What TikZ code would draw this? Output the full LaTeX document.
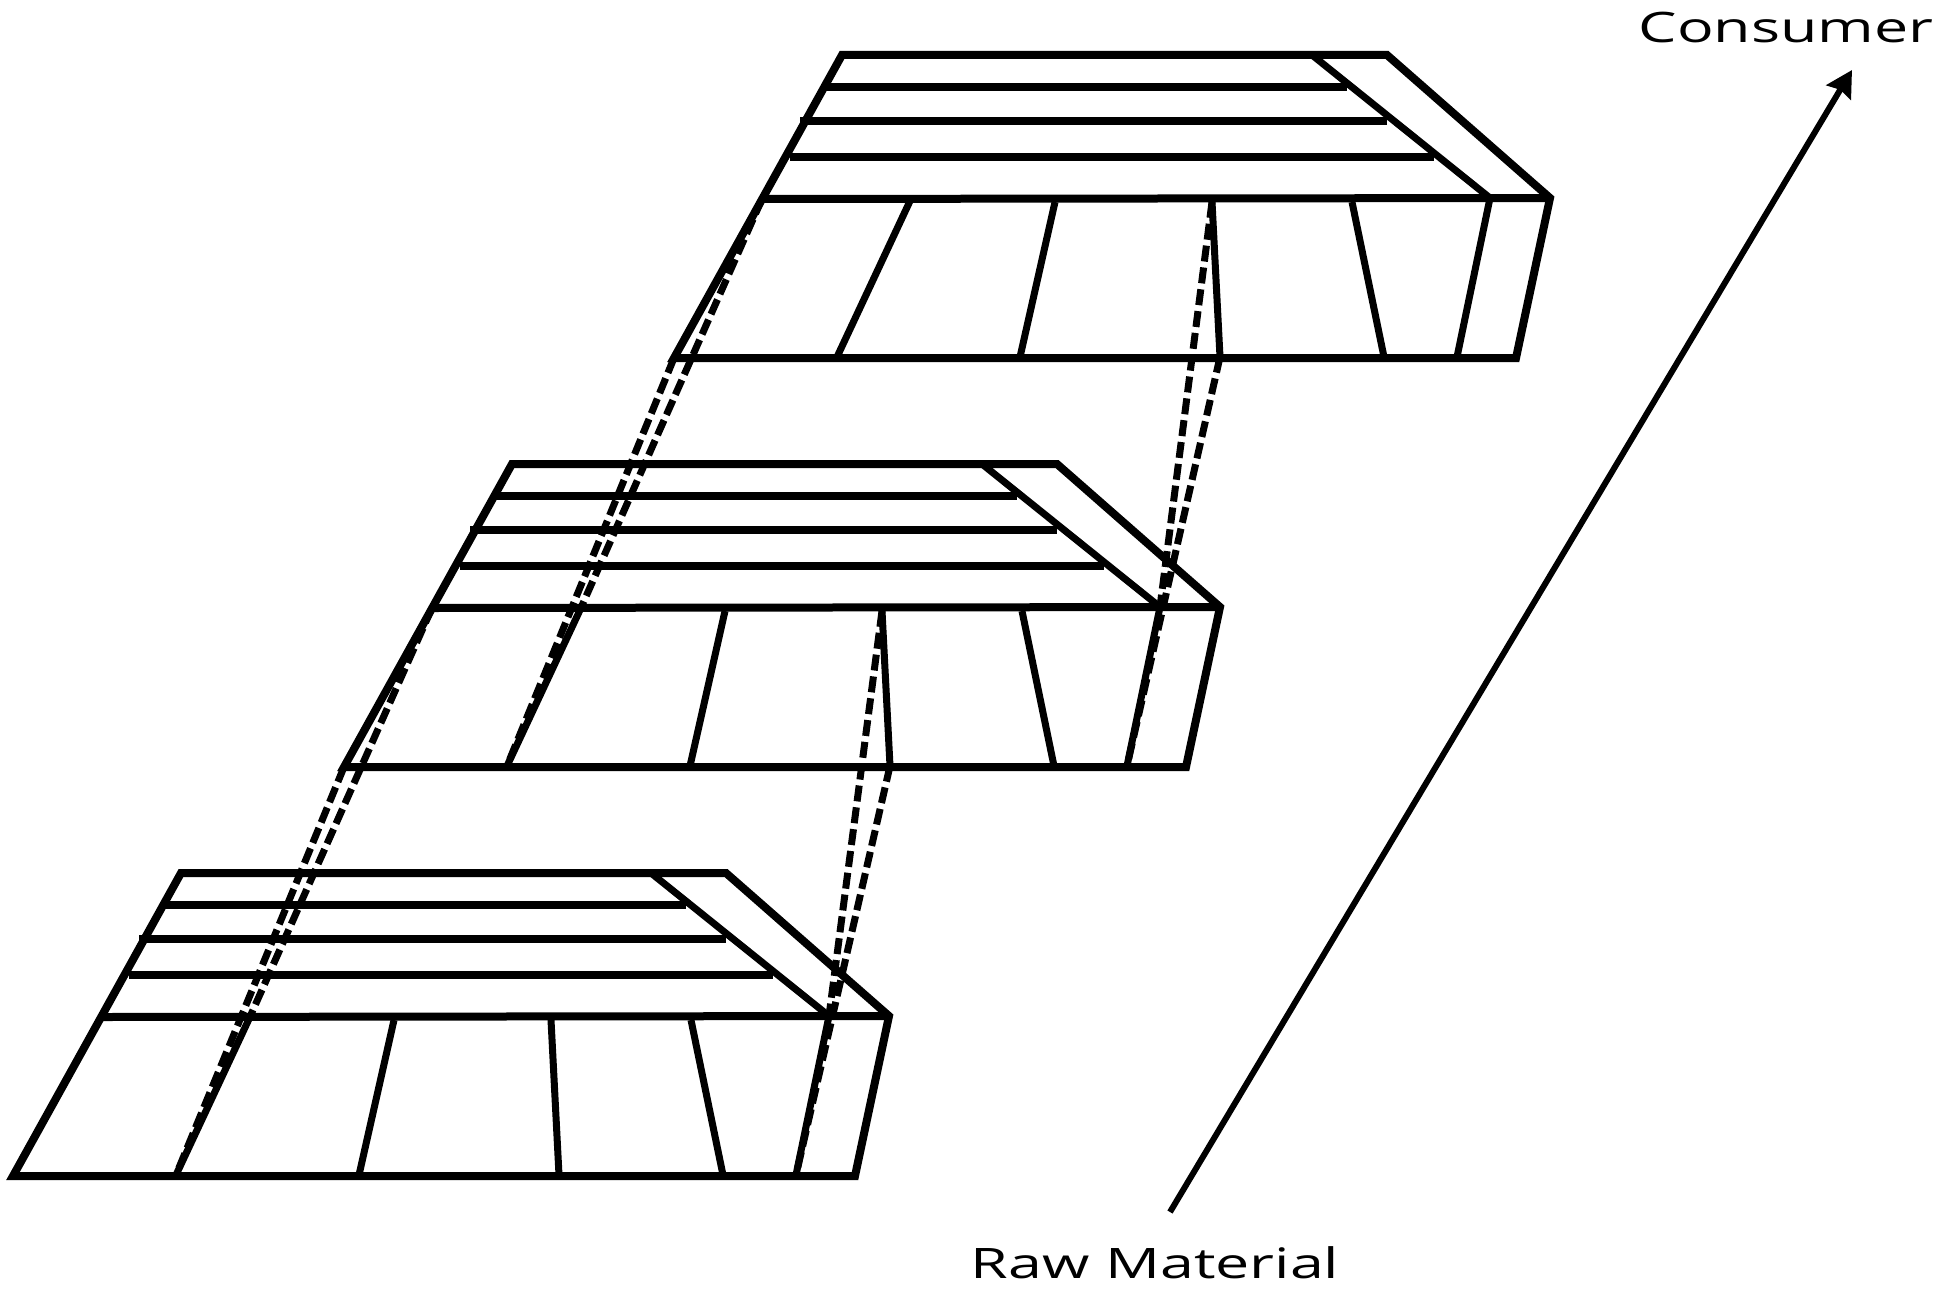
\documentclass[tikz,border=0pt]{standalone}
\usepackage{fontspec}
\newfontfamily\labelfont{Open Sans}
\usetikzlibrary{arrows.meta,positioning}
\tikzset{>=stealth}
\tikzset{frame/.style={line width=8pt},
  slat/.style={line width=8.5pt},
  divider/.style={line width=7pt},
  proj/.style={line width=7pt,dash pattern=on 16pt off 6pt},
  flow/.style={line width=6pt,-{Stealth[length=26pt,width=28pt,inset=3pt]}},
  flowlabel/.style={font=\labelfont\fontsize{42}{44}\selectfont,inner sep=0pt,anchor=base}}

\begin{document}
\begin{tikzpicture}[x=1pt,y=-1pt]
\useasboundingbox (0,0) rectangle (1950,1290);
% crates, bottom to top
\foreach \n/\px/\py in {0/181/873,1/512/464,2/842/55}{
\begin{scope}[shift={(\px,\py)}]
\coordinate (c\n-ftl) at (-80,144);
\coordinate (c\n-bl) at (-168,303);
\coordinate (c\n-at) at (68,146);
\coordinate (c\n-ab) at (-5,302);
\coordinate (c\n-ct) at (370,147);
\coordinate (c\n-cb) at (378,302);
\coordinate (c\n-et) at (648,143);
\coordinate (c\n-eb) at (615,302);
\draw[frame] (0,0)--(545,0)--(708,143)--(674,303)--(c\n-bl)--cycle;
\draw[frame] (c\n-ftl)--(708,143);
\draw[divider] (470,0)--(c\n-et)--(c\n-eb);
\draw[slat] (-17,32)--(505,32);
\draw[slat] (-42,66)--(545,66);
\draw[slat] (-52,102)--(592,102);
\draw[divider] (c\n-at)--(c\n-ab);
\draw[divider] (213,147)--(178,302);
\draw[divider] (c\n-ct)--(c\n-cb);
\draw[divider] (510,147)--(542,302);
\end{scope}}
% projections between crates
\foreach \u/\l in {1/0,2/1}{
\draw[proj] (c\u-ftl)--(c\l-at);
\draw[proj] (c\u-bl)--(c\l-ab);
\draw[proj] (c\u-ct)--(c\l-et);
\draw[proj] (c\u-cb)--(c\l-eb);}
\node[flowlabel] (consumer) at (1786,42) {\scalebox{1.45}[1]{Consumer}};
\node[flowlabel] (raw) at (1155,1278) {\scalebox{1.45}[1]{Raw Material}};
\coordinate (rawend) at (1170,1212);
\coordinate (consend) at (1852,70);
\draw[flow] (rawend)--(consend);
\end{tikzpicture}
\end{document}
